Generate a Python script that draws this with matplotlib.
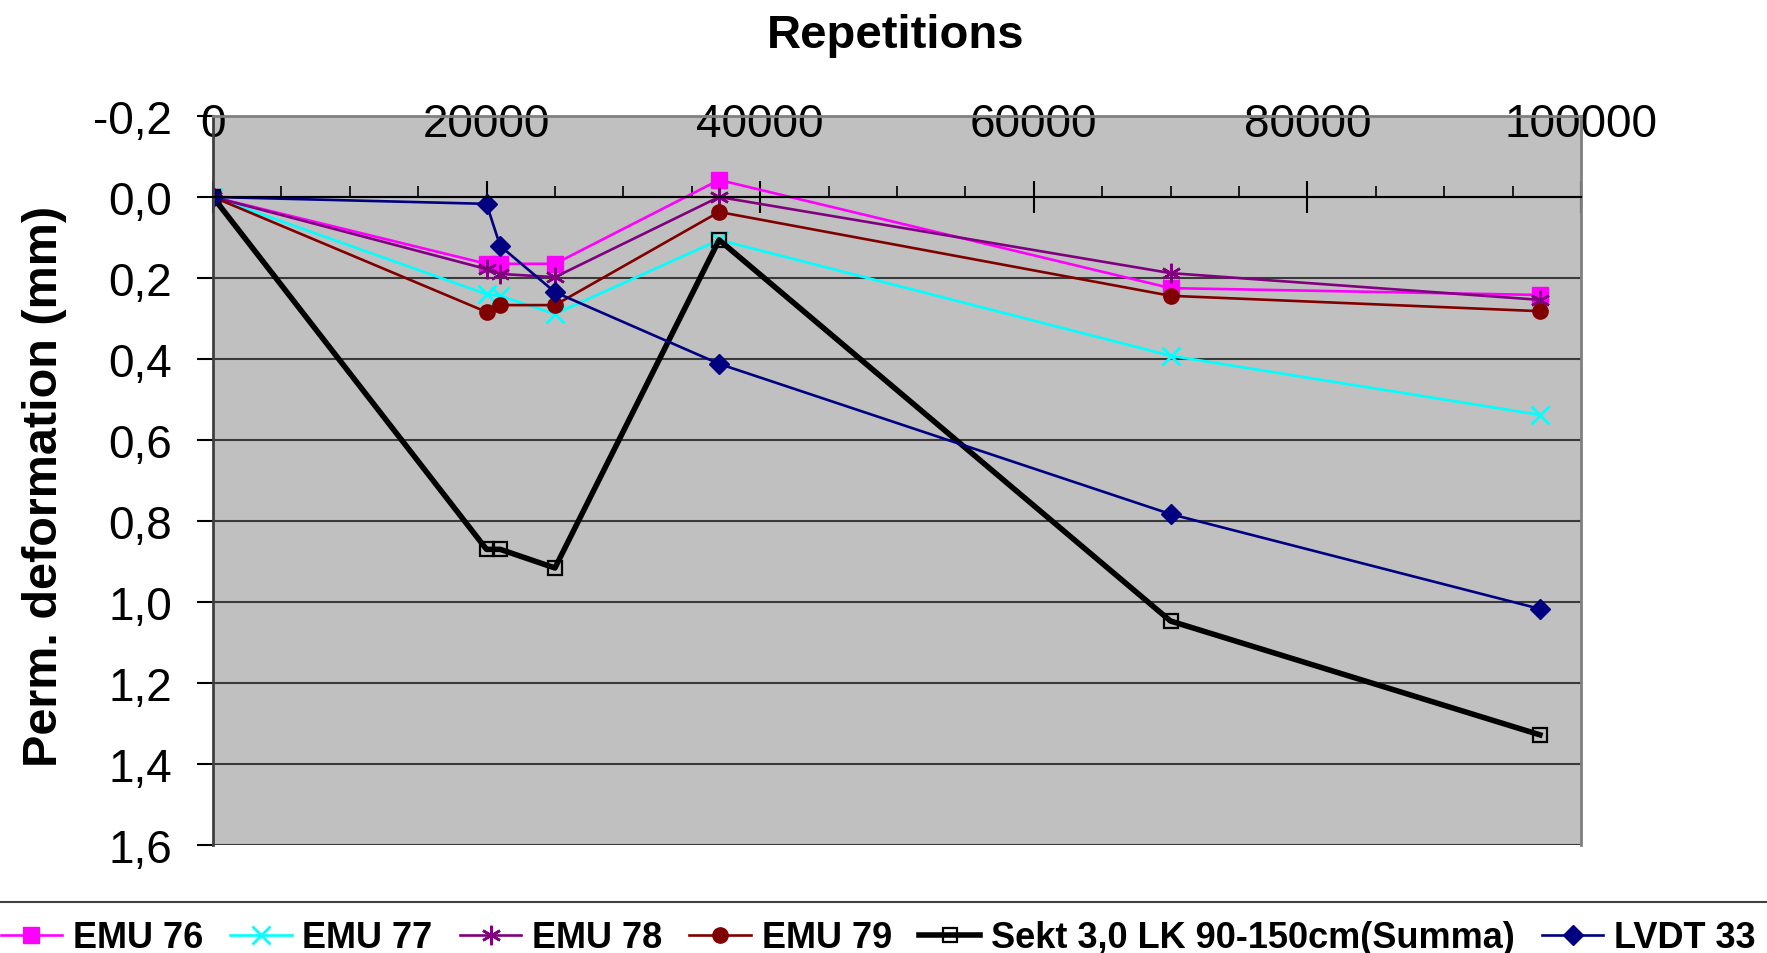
import matplotlib
matplotlib.use('Agg')
import matplotlib.pyplot as plt
from matplotlib.lines import Line2D
from matplotlib.ticker import MultipleLocator, FuncFormatter

plt.rcParams['font.family'] = ['Liberation Sans', 'DejaVu Sans']

# load repetitions and permanent deformation (mm)
reps = [0, 20000, 21000, 25000, 37000, 70000, 97000]

emu76 = [0.0, 0.165, 0.165, 0.165, -0.042, 0.225, 0.242]
emu77 = [0.0, 0.240, 0.244, 0.289, 0.106, 0.392, 0.538]
emu78 = [0.0, 0.178, 0.190, 0.198, 0.000, 0.188, 0.254]
emu79 = [0.0, 0.284, 0.267, 0.267, 0.037, 0.244, 0.282]
sekt = [0.0, 0.870, 0.870, 0.916, 0.106, 1.047, 1.328]
lvdt33 = [0.0, 0.017, 0.121, 0.235, 0.412, 0.783, 1.017]

names = ['EMU 76', 'EMU 77', 'EMU 78', 'EMU 79',
         'Sekt 3,0 LK 90-150cm(Summa)', 'LVDT 33']

fig = plt.figure(figsize=(17.67, 9.54), dpi=100)
ax = fig.add_axes([0.1205, 0.1132, 0.7742, 0.7642])
ax.set_facecolor('#C0C0C0')

ax.plot(reps, emu76, color='#FF00FF', lw=1.9, marker='s', ms=11, label=names[0])
ax.plot(reps, emu77, color='#00FFFF', lw=1.9, marker='x', ms=12.5, mew=2, label=names[1])
ax.plot(reps, emu78, color='#800080', lw=1.9, marker=(6, 2, 0), ms=14, mew=1.8, label=names[2])
ax.plot(reps, emu79, color='#800000', lw=1.9, marker='o', ms=11, label=names[3])
ax.plot(reps, sekt, color='black', lw=4, marker='s', ms=10.5, mfc='none', mew=1.6, label=names[4])
ax.plot(reps, lvdt33, color='#000080', lw=1.9, marker='D', ms=10, label=names[5])

ax.set_xlim(0, 100000)
ax.set_ylim(1.6, -0.2)

# horizontal gridlines
ax.yaxis.set_major_locator(MultipleLocator(0.2))
ax.grid(axis='y', color='#3a3a3a', lw=1.5)
ax.set_axisbelow(True)
ax.yaxis.set_major_formatter(FuncFormatter(lambda v, p: f'{v:.1f}'.replace('.', ',').replace('-0,0', '0,0')))
ax.tick_params(axis='y', direction='out', length=11.5, width=1.5, pad=18, labelsize=33)

# repetition axis crosses at zero, labels on top
ax.spines['bottom'].set_position(('data', 0.0))
ax.spines['bottom'].set_linewidth(1.5)
ax.xaxis.set_major_locator(MultipleLocator(20000))
ax.xaxis.set_minor_locator(MultipleLocator(5000))
ax.tick_params(axis='x', which='major', direction='inout', length=23, width=1.5)
ax.tick_params(axis='x', which='minor', direction='in', length=8, width=1.2)
ax.tick_params(axis='x', which='both', bottom=True, top=False,
               labelbottom=False, labeltop=True, labelsize=33, pad=-33)
ax.xaxis.set_major_formatter(FuncFormatter(lambda v, p: f'{int(v)}'))

for s in ['top', 'right']:
    ax.spines[s].set_color('#808080')
    ax.spines[s].set_linewidth(2)
ax.spines['left'].set_color('#404040')
ax.spines['left'].set_linewidth(2)

fig.text(0.507, 0.962, 'Repetitions', ha='center', va='center',
         fontsize=34, fontweight='bold')
fig.text(0.025, 0.49, 'Perm. deformation (mm)', ha='center', va='center',
         rotation=90, fontsize=35, fontweight='bold')

# legend strip along the bottom
fig.add_artist(Line2D([0, 1], [0.0535, 0.0535], transform=fig.transFigure,
                      color='#404040', lw=1.5))
leg = fig.legend(loc='center', bbox_to_anchor=(0.497, 0.016), ncol=6, frameon=False,
                 handlelength=1.7, handletextpad=0.3, columnspacing=0.75,
                 borderaxespad=0, borderpad=0,
                 prop={'weight': 'bold', 'size': 26})

fig.savefig('out.png', dpi=100)
